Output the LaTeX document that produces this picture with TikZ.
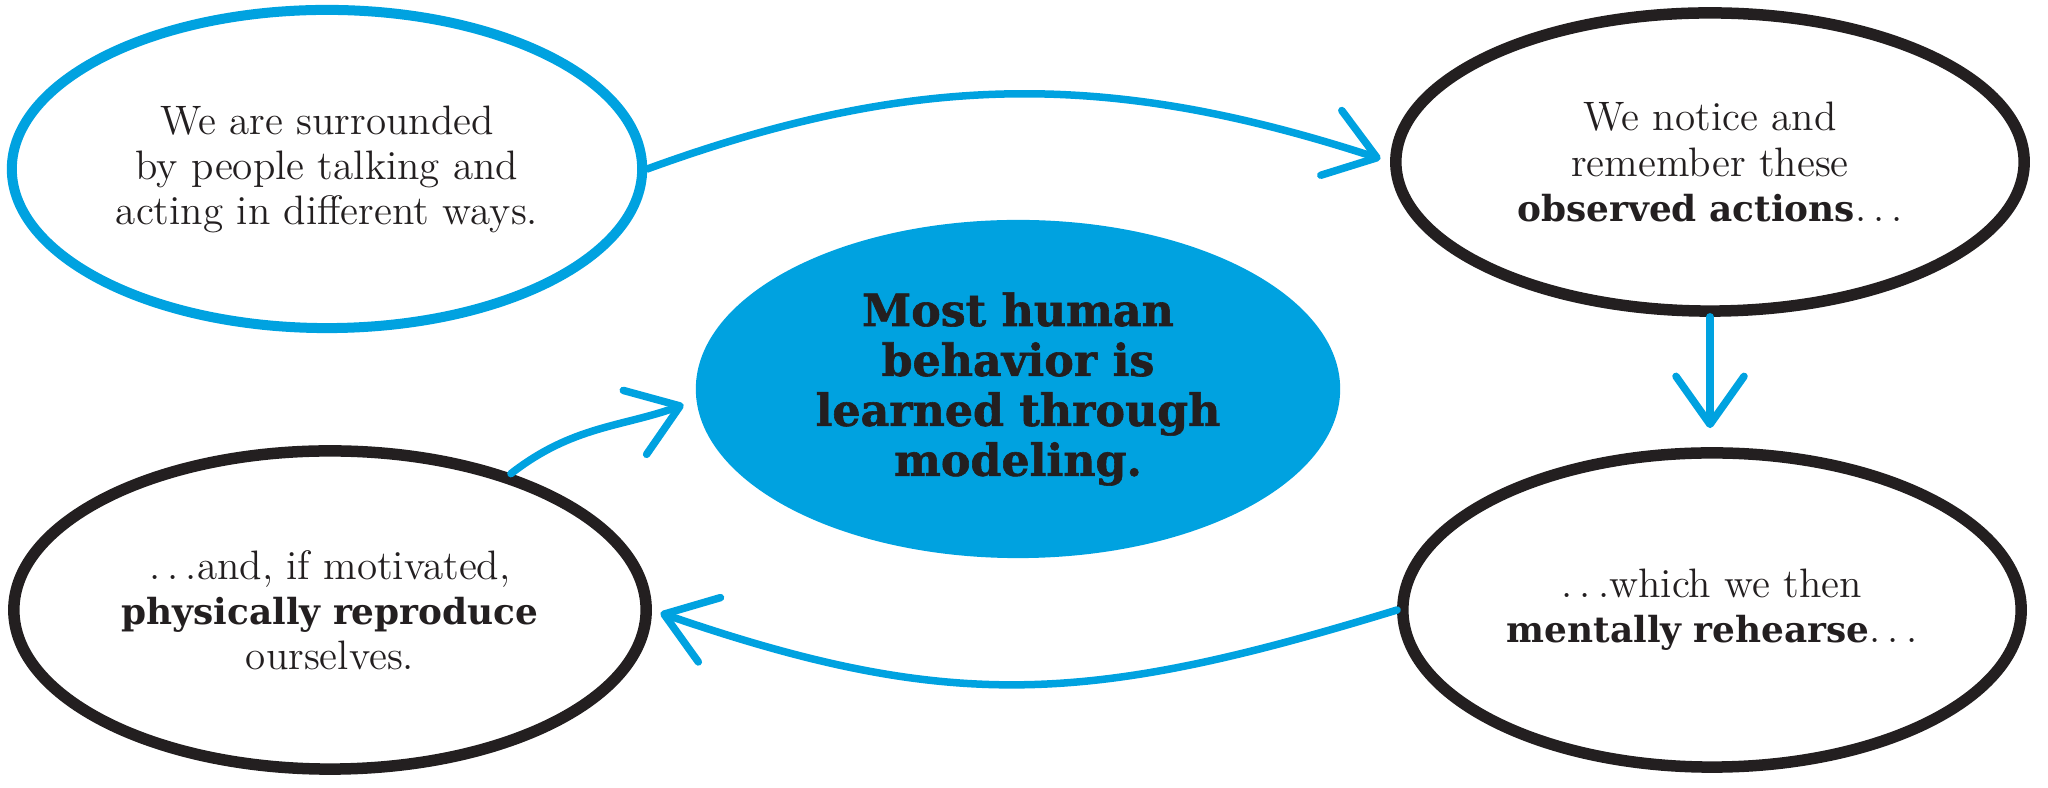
\documentclass[tikz,border=0pt]{standalone}
\usepackage{fontspec}
\usetikzlibrary{shapes.geometric,arrows.meta}
\newfontfamily\slab{DejaVu Serif}
\newfontfamily\slabheavy{DejaVu Serif}[BoldFeatures={FakeBold=1.3}]
\definecolor{cblue}{HTML}{00A2E0}
\definecolor{ink}{HTML}{231F20}
\tikzset{
  bubble/.style={ellipse, inner sep=0pt, align=center, text=ink,
    font=\fontsize{11.7}{12.8}\selectfont},
  blackbubble/.style={bubble, draw=ink, line width=0.115cm},
  bluebubble/.style={bubble, draw=cblue, line width=0.10cm},
  core/.style={ellipse, fill=cblue, inner sep=0pt, align=center, text=ink,
    font=\slabheavy\bfseries\fontsize{12.6}{14.2}\selectfont},
  flow/.style={draw=cblue, line width=0.075cm, line cap=round,
    -{Straight Barb[length=0.48cm,width=0.68cm,round]}},
}
\newcommand{\hb}[1]{{\slab\bfseries\fontsize{10.2}{12.8}\selectfont #1}}
\newcommand{\eldots}{.\kern0.17em.\kern0.17em.}
\begin{document}
\begin{tikzpicture}[x=0.01cm,y=0.01cm]
\useasboundingbox (0,0) rectangle (2048,788);
\node[bluebubble, minimum width=6.30cm, minimum height=3.18cm] (tl) at (327,619)
  {We are surrounded\\by people talking and\\acting in different ways.};
\node[blackbubble, minimum width=6.28cm, minimum height=2.98cm] (tr) at (1710,626)
  {We notice and\\remember these\\\hb{observed actions}\eldots};
\node[core, minimum width=6.44cm, minimum height=3.38cm] (c) at (1018,399)
  {Most human\\behavior is\\learned through\\modeling.};
\node[blackbubble, minimum width=6.32cm, minimum height=3.18cm] (bl) at (330,178)
  {\eldots and, if motivated,\\\hb{physically reproduce}\\ourselves.};
\node[blackbubble, minimum width=6.18cm, minimum height=3.14cm] (br) at (1712,178)
  {\eldots which we then\\\hb{mentally rehearse}\eldots};
\draw[flow, shorten >=0.1cm] (tl.east) to[out=20,in=162] (tr.west);
\draw[flow, shorten >=0.19cm] (tr.south) -- (tr.south |- br.north);
\draw[flow, shorten >=0.09cm] (br.west) to[out=197,in=-19,looseness=1.1] (bl.east);
\draw[flow, shorten >=0.13cm] (bl.37) to[out=38,in=200] (c.182);
\end{tikzpicture}
\end{document}
